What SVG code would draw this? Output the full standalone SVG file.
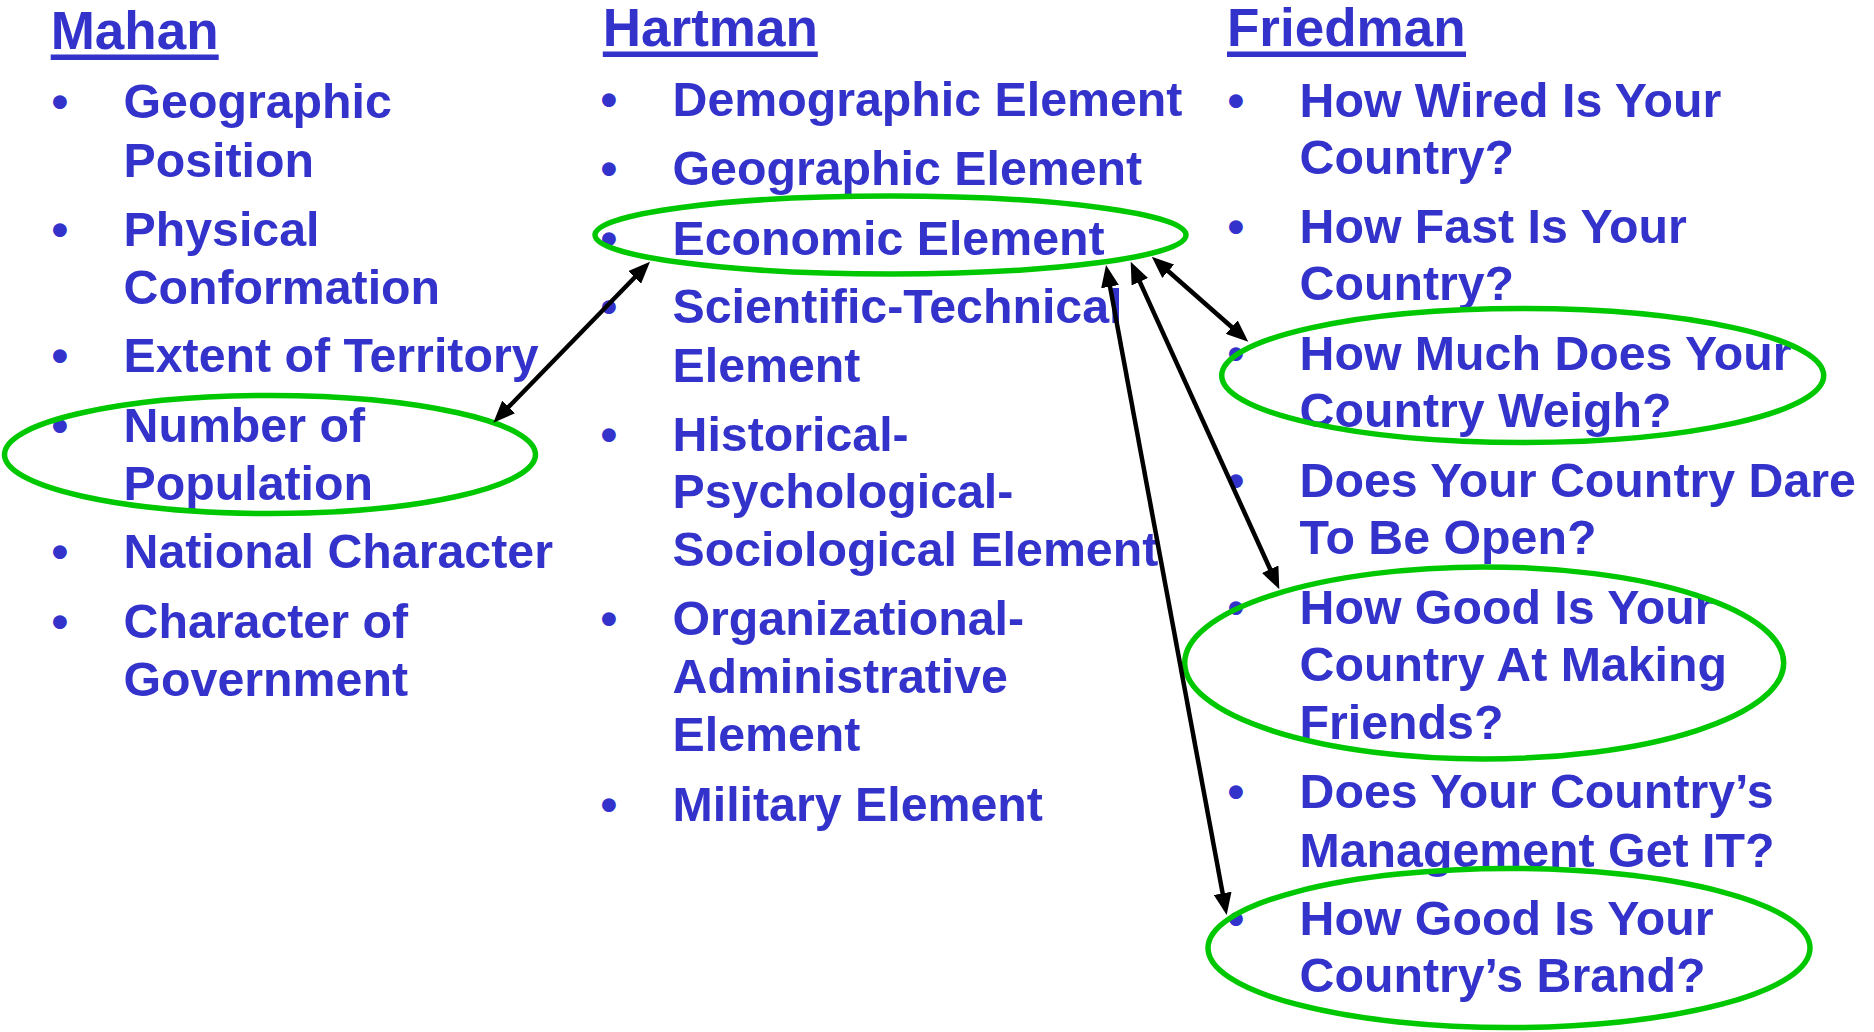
<svg xmlns="http://www.w3.org/2000/svg" width="1874" height="1032" viewBox="0 0 1874 1032">
<style>
text{font-family:"Liberation Sans",Arial,sans-serif;font-weight:bold;fill:#3333CC}
.h{font-size:53px}
.t{font-size:48.3px}
.b{font-size:48px;text-anchor:middle}
.ul{fill:#3333CC}
.hl{fill:none;stroke:#00C800;stroke-width:5.5}
.cn{fill:none;stroke:#000;stroke-width:4.5}
</style>
<defs>
<marker id="ah" viewBox="0 0 22 18" refX="15" refY="9" markerWidth="22" markerHeight="18" markerUnits="userSpaceOnUse" orient="auto-start-reverse">
<path d="M0,0 L22,9 L0,18 Z" fill="#000"/>
</marker>
</defs>
<rect width="1874" height="1032" fill="#fff"/>

<g id="col-mahan">
<g id="mahan-title"><text class="h" x="50.7" y="49">Mahan</text><rect class="ul" x="50.7" y="54.5" width="168" height="5.5"/></g>
<g id="mahan-1"><text class="b" x="60" y="118.3">•</text><text class="t" x="123.5" y="118.3">Geographic</text><text class="t" x="123.5" y="176.7">Position</text></g>
<g id="mahan-2"><text class="b" x="60" y="246">•</text><text class="t" x="123.5" y="246">Physical</text><text class="t" x="123.5" y="304">Conformation</text></g>
<g id="mahan-3"><text class="b" x="60" y="372">•</text><text class="t" x="123.5" y="372">Extent of Territory</text></g>
<g id="mahan-4"><text class="b" x="60" y="441.7">•</text><text class="t" x="123.5" y="441.7">Number of</text><text class="t" x="123.5" y="500">Population</text><ellipse class="hl" cx="270" cy="454.5" rx="265.5" ry="59"/></g>
<g id="mahan-5"><text class="b" x="60" y="568">•</text><text class="t" x="123.5" y="568">National Character</text></g>
<g id="mahan-6"><text class="b" x="60" y="638.4">•</text><text class="t" x="123.5" y="638.4">Character of</text><text class="t" x="123.5" y="696">Government</text></g>
</g>

<g id="col-hartman">
<g id="hartman-title"><text class="h" x="602.8" y="46">Hartman</text><rect class="ul" x="602.8" y="51.5" width="215" height="5.5"/></g>
<g id="hartman-1"><text class="b" x="609" y="116">•</text><text class="t" x="672.5" y="116">Demographic Element</text></g>
<g id="hartman-2"><text class="b" x="609" y="185.3">•</text><text class="t" x="672.5" y="185.3">Geographic Element</text></g>
<g id="hartman-3"><text class="b" x="609" y="255">•</text><text class="t" x="672.5" y="255">Economic Element</text><ellipse class="hl" cx="890.5" cy="235" rx="295.5" ry="39"/></g>
<g id="hartman-4"><text class="b" x="609" y="323.3">•</text><text class="t" x="672.5" y="323.3">Scientific-Technical</text><text class="t" x="672.5" y="381.7">Element</text></g>
<g id="hartman-5"><text class="b" x="609" y="450.7">•</text><text class="t" x="672.5" y="450.7">Historical-</text><text class="t" x="672.5" y="508.3">Psychological-</text><text class="t" x="672.5" y="566">Sociological Element</text></g>
<g id="hartman-6"><text class="b" x="609" y="635">•</text><text class="t" x="672.5" y="635">Organizational-</text><text class="t" x="672.5" y="693.4">Administrative</text><text class="t" x="672.5" y="751">Element</text></g>
<g id="hartman-7"><text class="b" x="609" y="820.7">•</text><text class="t" x="672.5" y="820.7">Military Element</text></g>
</g>

<g id="col-friedman">
<g id="friedman-title"><text class="h" x="1227" y="46">Friedman</text><rect class="ul" x="1227" y="51.5" width="239" height="5.5"/></g>
<g id="friedman-1"><text class="b" x="1236" y="116.7">•</text><text class="t" x="1299.5" y="116.7">How Wired Is Your</text><text class="t" x="1299.5" y="174">Country?</text></g>
<g id="friedman-2"><text class="b" x="1236" y="243.3">•</text><text class="t" x="1299.5" y="243.3">How Fast Is Your</text><text class="t" x="1299.5" y="300">Country?</text></g>
<g id="friedman-3"><text class="b" x="1236" y="370">•</text><text class="t" x="1299.5" y="370">How Much Does Your</text><text class="t" x="1299.5" y="427.3">Country Weigh?</text><ellipse class="hl" cx="1522.7" cy="375.5" rx="301" ry="67"/></g>
<g id="friedman-4"><text class="b" x="1236" y="496.7">•</text><text class="t" x="1299.5" y="496.7">Does Your Country Dare</text><text class="t" x="1299.5" y="554.3">To Be Open?</text></g>
<g id="friedman-5"><text class="b" x="1236" y="623.9">•</text><text class="t" x="1299.5" y="623.9">How Good Is Your</text><text class="t" x="1299.5" y="680.9">Country At Making</text><text class="t" x="1299.5" y="738.5">Friends?</text><ellipse class="hl" cx="1484.2" cy="662.9" rx="299.5" ry="96"/></g>
<g id="friedman-6"><text class="b" x="1236" y="808">•</text><text class="t" x="1299.5" y="808">Does Your Country’s</text><text class="t" x="1299.5" y="866.5">Management Get IT?</text></g>
<g id="friedman-7"><text class="b" x="1236" y="935.4">•</text><text class="t" x="1299.5" y="935.4">How Good Is Your</text><text class="t" x="1299.5" y="992">Country’s Brand?</text><ellipse class="hl" cx="1509" cy="948" rx="301" ry="79.5"/></g>
</g>

<g id="connectors">
<path class="cn" d="M498.2,417.7 L645.1,266.7" marker-start="url(#ah)" marker-end="url(#ah)"/>
<path class="cn" d="M1157,261.3 L1243,337" marker-start="url(#ah)" marker-end="url(#ah)"/>
<path class="cn" d="M1133.6,268.1 L1276.4,582.9" marker-start="url(#ah)" marker-end="url(#ah)"/>
<path class="cn" d="M1107.3,271.9 L1225.4,908.1" marker-start="url(#ah)" marker-end="url(#ah)"/>
</g>
</svg>
